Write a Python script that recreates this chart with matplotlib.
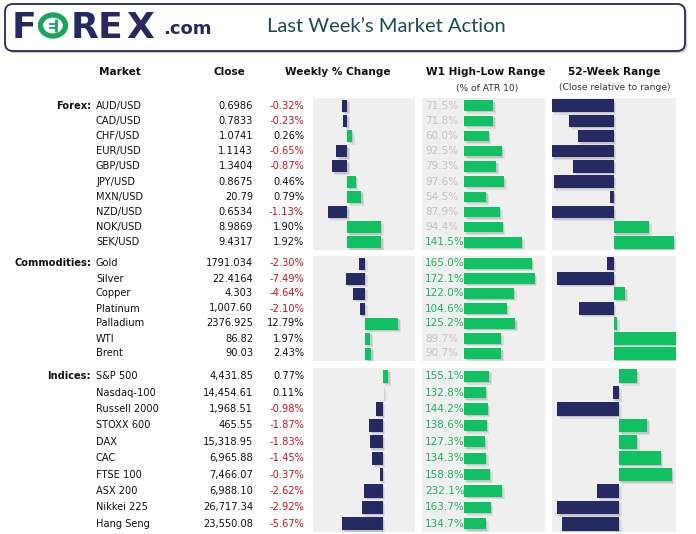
import matplotlib
matplotlib.use("Agg")
import matplotlib.pyplot as plt
import matplotlib.patheffects as pe
from matplotlib.patches import FancyBboxPatch, Ellipse
from matplotlib.transforms import blended_transform_factory

NAVY = "#262a62"
GREEN = "#10c163"
RED = "#c0151b"
PANEL = "#efefef"

# ---- data ----
forex_names = ["AUD/USD", "CAD/USD", "CHF/USD", "EUR/USD", "GBP/USD",
               "JPY/USD", "MXN/USD", "NZD/USD", "NOK/USD", "SEK/USD"]
forex_close = ["0.6986", "0.7833", "1.0741", "1.1143", "1.3404",
               "0.8675", "20.79", "0.6534", "8.9869", "9.4317"]
forex_week = [-0.32, -0.23, 0.26, -0.65, -0.87, 0.46, 0.79, -1.13, 1.90, 1.92]
forex_w1 = [71.5, 71.8, 60.0, 92.5, 79.3, 97.6, 54.5, 87.9, 94.4, 141.5]
forex_52w = [-1.0, -0.72, -0.58, -1.0, -0.66, -0.97, -0.06, -1.0, 0.57, 0.97]

comm_names = ["Gold", "Silver", "Copper", "Platinum", "Palladium", "WTI", "Brent"]
comm_close = ["1791.034", "22.4164", "4.303", "1,007.60", "2376.925", "86.82", "90.03"]
comm_week = [-2.30, -7.49, -4.64, -2.10, 12.79, 1.97, 2.43]
comm_w1 = [165.0, 172.1, 122.0, 104.6, 125.2, 89.7, 90.7]
comm_52w = [-0.11, -0.91, 0.19, -0.56, 0.05, 1.0, 1.0]

idx_names = ["S&P 500", "Nasdaq-100", "Russell 2000", "STOXX 600", "DAX",
             "CAC", "FTSE 100", "ASX 200", "Nikkei 225", "Hang Seng"]
idx_close = ["4,431.85", "14,454.61", "1,968.51", "465.55", "15,318.95",
             "6,965.88", "7,466.07", "6,988.10", "26,717.34", "23,550.08"]
idx_week = [0.77, 0.11, -0.98, -1.87, -1.83, -1.45, -0.37, -2.62, -2.92, -5.67]
idx_w1 = [155.1, 132.8, 144.2, 138.6, 127.3, 134.3, 158.8, 232.1, 163.7, 134.7]
idx_52w = [0.29, -0.10, -1.0, 0.46, 0.29, 0.67, 0.85, -0.35, -1.0, -0.92]

# section label, top px, bottom px, axis limits for the three bar columns
sections = [
    ("Forex:", forex_names, forex_close, forex_week, forex_w1, forex_52w,
     98, 250, (-1.96, 3.84), (-102.4, 197.6), (-0.995, 1.005)),
    ("Commodities:", comm_names, comm_close, comm_week, comm_w1, comm_52w,
     256, 361, (-20.0, 19.2), (-102.4, 197.6), (-0.995, 1.005)),
    ("Indices:", idx_names, idx_close, idx_week, idx_w1, idx_52w,
     368, 532, (-9.8, 4.55), (-257.7, 496.9), (-1.08, 0.92)),
]

W, H = 696, 534
fig = plt.figure(figsize=(W / 100, H / 100), dpi=100)
fig.patch.set_facecolor("white")
base = fig.add_axes([0, 0, 1, 1])
base.set_xlim(0, W)
base.set_ylim(H, 0)
base.axis("off")

FONT = "DejaVu Sans"
shadow = [pe.SimplePatchShadow(offset=(2, -2), shadow_rgbFace="#555555", alpha=0.12),
          pe.SimplePatchShadow(offset=(1, -1), shadow_rgbFace="#555555", alpha=0.18),
          pe.Normal()]


def px_axes(x0, y0, x1, y1):
    ax = fig.add_axes([x0 / W, 1 - y1 / H, (x1 - x0) / W, (y1 - y0) / H])
    ax.set_facecolor(PANEL)
    for s in ax.spines.values():
        s.set_visible(False)
    ax.set_xticks([])
    ax.set_yticks([])
    return ax


# ---- header box ----
box = FancyBboxPatch((5, 4), 680, 47, boxstyle="round,pad=0,rounding_size=8",
                     facecolor="white", edgecolor=NAVY, linewidth=1.3,
                     path_effects=[pe.SimplePatchShadow(offset=(1.5, -1.5), alpha=0.3), pe.Normal()])
base.add_patch(box)

logo_green = "#1aa35b"
for ch, xc in [("F", 24), ("R", 84.5), ("E", 110), ("X", 140)]:
    base.text(xc, 38, ch, color=NAVY, fontsize=26, fontweight="bold", family=FONT,
              ha="center", va="baseline")
base.add_patch(Ellipse((53, 25.5), 25, 21, fill=False, lw=3.8, ec=logo_green))
base.plot([56, 56], [19, 32], color=logo_green, lw=2.0, solid_capstyle="butt")
base.plot([50, 56], [23.5, 23.5], color=logo_green, lw=1.3)
base.plot([50, 56], [27.5, 27.5], color=logo_green, lw=1.3)
base.text(163, 34, ".com", color=NAVY, fontsize=13, fontweight="bold", family=FONT,
          ha="left", va="baseline")
base.text(267, 27, "Last Week\u2019s Market Action", color="#1c4a57", fontsize=14.5,
          family="Lato", ha="left", va="center")

# ---- column headers ----
hdr = dict(fontsize=7.6, fontweight="bold", family=FONT, color="#111111", va="center")
base.text(120, 72, "Market", ha="center", **hdr)
base.text(229, 72, "Close", ha="center", **hdr)
base.text(338, 72, "Weekly % Change", ha="center", **hdr)
base.text(486, 72, "W1 High-Low Range", ha="center", **hdr)
base.text(614, 72, "52-Week Range", ha="center", **hdr)
sub = dict(fontsize=6.6, family=FONT, color="#333333", va="center", ha="center")
base.text(487, 88, "(% of ATR 10)", **sub)
base.text(615, 88, "(Close relative to range)", **sub)

body = dict(fontsize=7.1, family=FONT, va="center")

for (label, names, closes, week, w1, r52, top, bot, wlim, hlim, rlim) in sections:
    n = len(names)
    ax_w = px_axes(313, top, 415, bot)
    ax_h = px_axes(422, top, 545, bot)
    ax_r = px_axes(552, top, 676, bot)
    rows = list(range(n))

    cw = [GREEN if v >= 0 else NAVY for v in week]
    bw = ax_w.barh(rows, week, height=0.8, color=cw)
    ax_w.set_xlim(*wlim)

    bh = ax_h.barh(rows, w1, height=0.68, color=GREEN)
    ax_h.set_xlim(*hlim)

    cr = [GREEN if v >= 0 else NAVY for v in r52]
    br = ax_r.barh(rows, r52, height=0.82, color=cr)
    ax_r.set_xlim(*rlim)

    for ax, bars in [(ax_w, bw), (ax_h, bh), (ax_r, br)]:
        ax.set_ylim(n - 0.5, -0.5)
        for b in bars:
            b.set_path_effects(shadow)

    tr = blended_transform_factory(base.transData, ax_w.transData)
    trh = blended_transform_factory(base.transData, ax_h.transData)
    base.text(91, 0, label, transform=tr, ha="right", fontweight="bold",
              color="#111111", **body)
    for i in rows:
        base.text(96, i, names[i], transform=tr, ha="left", color="#111111", **body)
        base.text(253, i, closes[i], transform=tr, ha="right", color="#111111", **body)
        base.text(304, i, f"{week[i]:.2f}%", transform=tr, ha="right",
                  color=RED if week[i] < 0 else "#111111", **body)
        ax_h.text(425, i, f"{w1[i]:.1f}%", transform=trh, ha="left",
                  color="#19b45f" if w1[i] >= 100 else "#c2c2c2",
                  fontsize=7.5, family=FONT, va="center")

fig.savefig("out.png", dpi=100, facecolor="white")
